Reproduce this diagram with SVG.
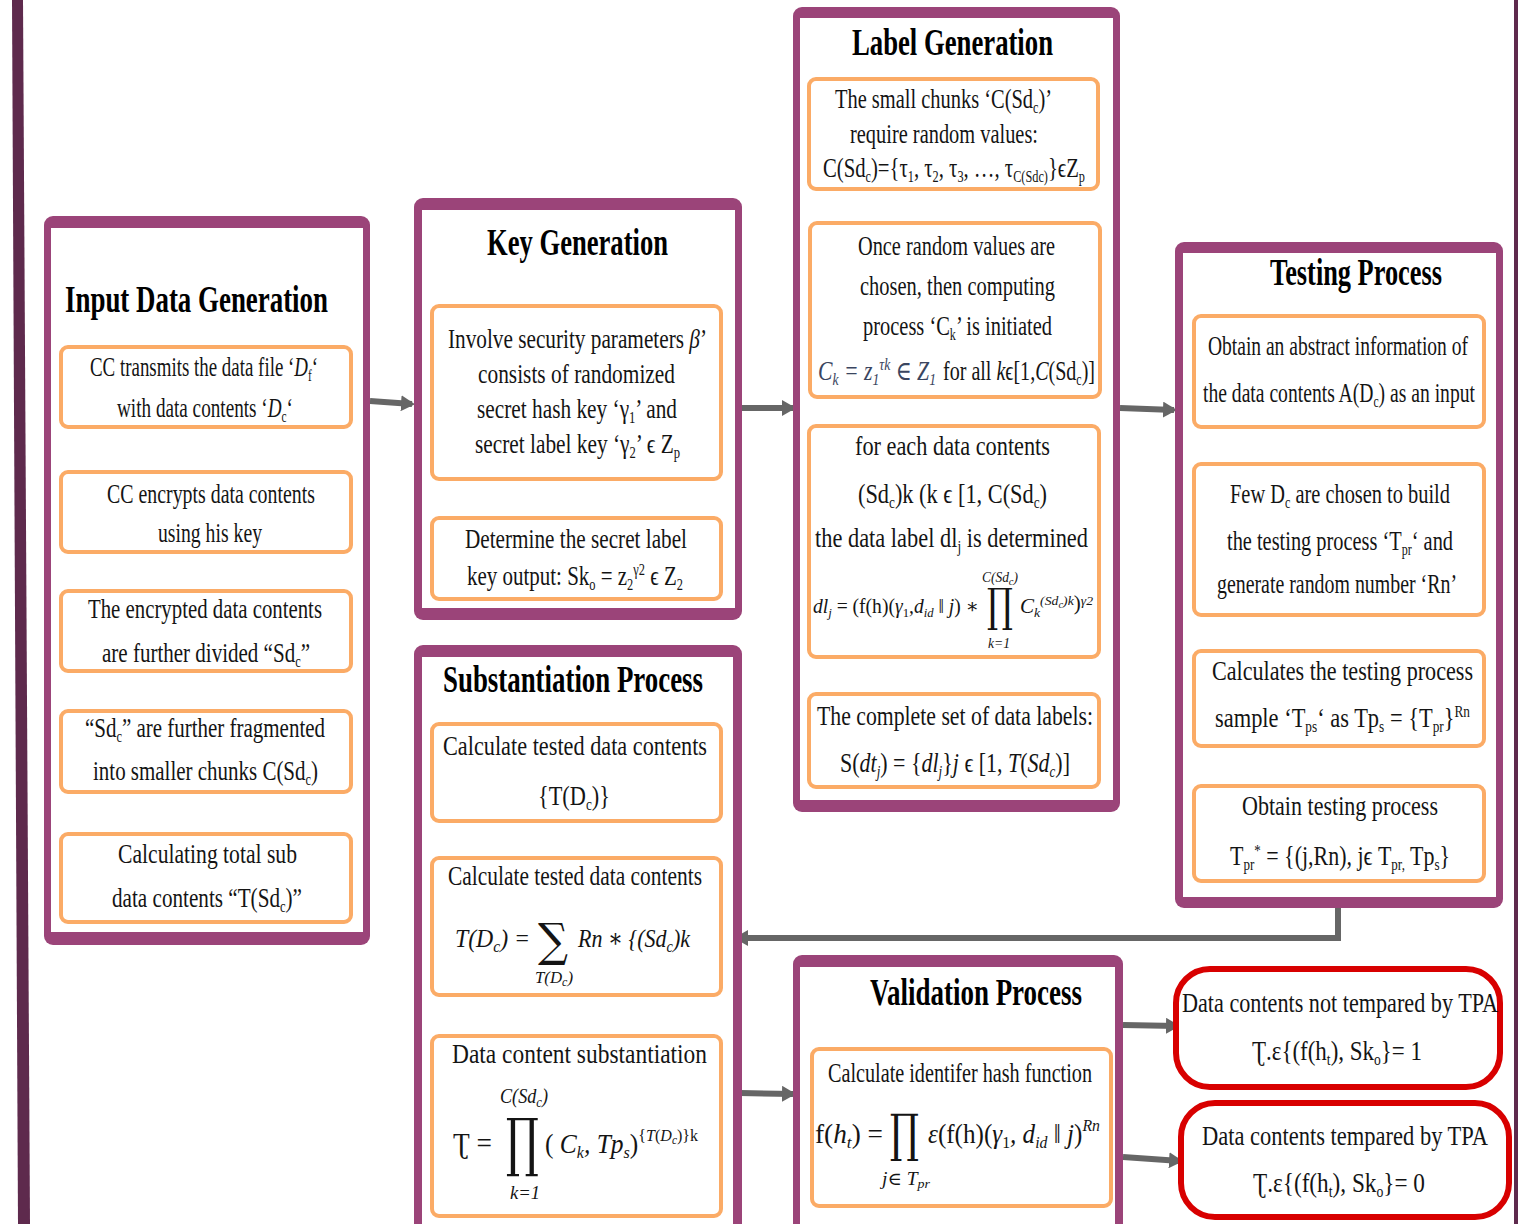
<svg xmlns="http://www.w3.org/2000/svg" width="1518" height="1224" viewBox="0 0 1518 1224">
  <defs>
    <style>
      .frame { fill: #9b4479; }
      .inner { fill: #ffffff; }
      .step { fill: #ffffff; stroke: #fbab66; stroke-width: 4; }
      .result { fill: #ffffff; stroke: #d80000; stroke-width: 6; }
      .t { font-family: "Liberation Serif", "Times New Roman", "DejaVu Serif", serif; font-size: 27px; fill: #141414; }
      .h { font-family: "Liberation Serif", "Times New Roman", serif; font-size: 38px; font-weight: bold; fill: #000; }
      .m { font-style: italic; }
      .op { font-family: "DejaVu Serif", "Liberation Serif", serif; fill: #141414; }
      .link { stroke: #666666; stroke-width: 6; fill: none; }
      .flow { stroke: #666666; stroke-width: 3; fill: none; }
    </style>
    <marker id="head" markerUnits="userSpaceOnUse" viewBox="0 0 14 16" refX="11" refY="8" markerWidth="14" markerHeight="16" orient="auto">
      <path d="M0,0 L14,8 L0,16 Z" fill="#666666"/>
    </marker>
    <marker id="vee" markerUnits="userSpaceOnUse" viewBox="0 0 14 12" refX="12" refY="6" markerWidth="14" markerHeight="12" orient="auto">
      <path d="M2,0.5 L12,6 L2,11.5" fill="none" stroke="#666666" stroke-width="2.5"/>
    </marker>
  </defs>

  <rect width="1518" height="1224" fill="#ffffff"/>

  <!-- page edges -->
  <polygon points="12,0 23,0 30,1224 18,1224" fill="#5e2a4d"/>
  <rect x="1514" y="0" width="4" height="1224" fill="#5e2a4d"/>

  <!-- connectors -->
  <g id="connectors">
    <line class="link" x1="370" y1="401" x2="412" y2="404" marker-end="url(#head)"/>
    <line class="link" x1="740" y1="408" x2="793" y2="408" marker-end="url(#head)"/>
    <line class="link" x1="1120" y1="408" x2="1174" y2="410" marker-end="url(#head)"/>
    <polyline class="link" points="1338,908 1338,938 737,938" marker-end="url(#head)"/>
    <line class="link" x1="740" y1="1093" x2="793" y2="1094" marker-end="url(#head)"/>
    <line class="link" x1="1123" y1="1025" x2="1177" y2="1026" marker-end="url(#head)"/>
    <line class="link" x1="1123" y1="1157" x2="1180" y2="1161" marker-end="url(#head)"/>

    <line class="flow" x1="206" y1="430" x2="206" y2="470" marker-end="url(#vee)"/>
    <line class="flow" x1="206" y1="554" x2="206" y2="589" marker-end="url(#vee)"/>
    <line class="flow" x1="206" y1="674" x2="206" y2="709" marker-end="url(#vee)"/>
    <line class="flow" x1="206" y1="794" x2="206" y2="832" marker-end="url(#vee)"/>

    <line class="flow" x1="576" y1="482" x2="576" y2="516" marker-end="url(#vee)"/>

    <line class="flow" x1="955" y1="192" x2="955" y2="221" marker-end="url(#vee)"/>
    <line class="flow" x1="955" y1="400" x2="955" y2="424" marker-end="url(#vee)"/>
    <line class="flow" x1="955" y1="660" x2="955" y2="692" marker-end="url(#vee)"/>

    <line class="flow" x1="1338" y1="430" x2="1338" y2="462" marker-end="url(#vee)"/>
    <line class="flow" x1="1338" y1="617" x2="1338" y2="649" marker-end="url(#vee)"/>
    <line class="flow" x1="1338" y1="749" x2="1338" y2="784" marker-end="url(#vee)"/>

    <line class="flow" x1="576" y1="824" x2="576" y2="856" marker-end="url(#vee)"/>
    <line class="flow" x1="576" y1="997" x2="576" y2="1034" marker-end="url(#vee)"/>
  </g>

  <!-- Input Data Generation -->
  <g id="input-data-generation">
    <rect class="frame" x="44" y="216" width="326" height="729" rx="9"/>
    <rect class="inner" x="51" y="228" width="312" height="704"/>
    <text class="h" x="65" y="312" textLength="263" lengthAdjust="spacingAndGlyphs">Input Data Generation</text>
    <rect class="step" x="61" y="347" width="290" height="80" rx="7"/>
    <text class="t" x="90" y="376" textLength="228" lengthAdjust="spacingAndGlyphs">CC transmits the data file ‘<tspan class="m">D</tspan><tspan font-size="16" dy="5">f</tspan><tspan dy="-5">‘</tspan></text>
    <text class="t" x="117" y="417" textLength="176" lengthAdjust="spacingAndGlyphs">with data contents ‘<tspan class="m">D</tspan><tspan font-size="16" dy="5">c</tspan><tspan dy="-5">‘</tspan></text>
    <rect class="step" x="61" y="472" width="290" height="80" rx="7"/>
    <text class="t" x="107" y="503" textLength="208" lengthAdjust="spacingAndGlyphs">CC encrypts data contents</text>
    <text class="t" x="158" y="542" textLength="104" lengthAdjust="spacingAndGlyphs">using his key</text>
    <rect class="step" x="61" y="591" width="290" height="80" rx="7"/>
    <text class="t" x="88" y="618" textLength="234" lengthAdjust="spacingAndGlyphs">The encrypted data contents</text>
    <text class="t" x="102" y="662" textLength="208" lengthAdjust="spacingAndGlyphs">are further divided “Sd<tspan font-size="16" dy="5">c</tspan><tspan dy="-5">”</tspan></text>
    <rect class="step" x="61" y="711" width="290" height="81" rx="7"/>
    <text class="t" x="85" y="737" textLength="240" lengthAdjust="spacingAndGlyphs">“Sd<tspan font-size="16" dy="5">c</tspan><tspan dy="-5">” are further fragmented</tspan></text>
    <text class="t" x="93" y="780" textLength="225" lengthAdjust="spacingAndGlyphs">into smaller chunks C(Sd<tspan font-size="16" dy="5">c</tspan><tspan dy="-5">)</tspan></text>
    <rect class="step" x="61" y="834" width="290" height="88" rx="7"/>
    <text class="t" x="118" y="863" textLength="179" lengthAdjust="spacingAndGlyphs">Calculating total sub</text>
    <text class="t" x="112" y="907" textLength="190" lengthAdjust="spacingAndGlyphs">data contents “T(Sd<tspan font-size="16" dy="5">c</tspan><tspan dy="-5">)”</tspan></text>
  </g>

  <!-- Key Generation -->
  <g id="key-generation">
    <rect class="frame" x="414" y="198" width="328" height="422" rx="9"/>
    <rect class="inner" x="422" y="210" width="313" height="398"/>
    <text class="h" x="487" y="255" textLength="181" lengthAdjust="spacingAndGlyphs">Key Generation</text>
    <rect class="step" x="432" y="306" width="289" height="173" rx="7"/>
    <text class="t" x="448" y="348" textLength="259" lengthAdjust="spacingAndGlyphs">Involve security parameters <tspan class="m">β</tspan>’</text>
    <text class="t" x="478" y="383" textLength="197" lengthAdjust="spacingAndGlyphs">consists of randomized</text>
    <text class="t" x="477" y="418" textLength="200" lengthAdjust="spacingAndGlyphs">secret hash key ‘γ<tspan font-size="16" dy="5">1</tspan><tspan dy="-5">’ and</tspan></text>
    <text class="t" x="475" y="453" textLength="205" lengthAdjust="spacingAndGlyphs">secret label key ‘γ<tspan font-size="16" dy="5">2</tspan><tspan dy="-5">’ ϵ Z</tspan><tspan font-size="16" dy="5">p</tspan></text>
    <rect class="step" x="432" y="518" width="289" height="81" rx="7"/>
    <text class="t" x="465" y="548" textLength="222" lengthAdjust="spacingAndGlyphs">Determine the secret label</text>
    <text class="t" x="467" y="585" textLength="216" lengthAdjust="spacingAndGlyphs">key output: Sk<tspan font-size="16" dy="5">o</tspan><tspan dy="-5"> = z</tspan><tspan font-size="16" dy="5">2</tspan><tspan font-size="16" dy="-15">γ2</tspan><tspan dy="10"> ϵ Z</tspan><tspan font-size="16" dy="5">2</tspan></text>
  </g>

  <!-- Label Generation -->
  <g id="label-generation">
    <rect class="frame" x="793" y="7" width="327" height="805" rx="9"/>
    <rect class="inner" x="800" y="18" width="313" height="782"/>
    <text class="h" x="852" y="55" textLength="201" lengthAdjust="spacingAndGlyphs">Label Generation</text>
    <rect class="step" x="809" y="79" width="289" height="110" rx="7"/>
    <text class="t" x="835" y="108" textLength="217" lengthAdjust="spacingAndGlyphs">The small chunks ‘C(Sd<tspan font-size="16" dy="5">c</tspan><tspan dy="-5">)’</tspan></text>
    <text class="t" x="850" y="143" textLength="188" lengthAdjust="spacingAndGlyphs">require random values:</text>
    <text class="t" x="823" y="177" textLength="262" lengthAdjust="spacingAndGlyphs">C(Sd<tspan font-size="16" dy="5">c</tspan><tspan dy="-5">)={τ</tspan><tspan font-size="16" dy="5">1</tspan><tspan dy="-5">, τ</tspan><tspan font-size="16" dy="5">2</tspan><tspan dy="-5">, τ</tspan><tspan font-size="16" dy="5">3</tspan><tspan dy="-5">, …, τ</tspan><tspan font-size="16" dy="5">C(Sdc)</tspan><tspan dy="-5">}ϵZ</tspan><tspan font-size="16" dy="5">p</tspan></text>
    <rect class="step" x="810" y="223" width="290" height="174" rx="7"/>
    <text class="t" x="858" y="255" textLength="197" lengthAdjust="spacingAndGlyphs">Once random values are</text>
    <text class="t" x="860" y="295" textLength="195" lengthAdjust="spacingAndGlyphs">chosen, then computing</text>
    <text class="t" x="863" y="335" textLength="189" lengthAdjust="spacingAndGlyphs">process ‘C<tspan font-size="16" dy="5">k</tspan><tspan dy="-5">’ is initiated</tspan></text>
    <text class="t m" x="818" y="380" textLength="118" lengthAdjust="spacingAndGlyphs" style="fill:#3a4560;font-size:27px">C<tspan font-size="17" dy="5">k</tspan><tspan dy="-5"> = z</tspan><tspan font-size="17" dy="5">1</tspan><tspan font-size="17" dy="-15">τk</tspan><tspan dy="10"> ∈ Z</tspan><tspan font-size="17" dy="5">1</tspan></text>
    <text class="t" x="943" y="380" textLength="152" lengthAdjust="spacingAndGlyphs">for all <tspan class="m">k</tspan>ϵ[1,<tspan class="m">C</tspan>(Sd<tspan font-size="16" dy="5">c</tspan><tspan dy="-5">)]</tspan></text>
    <rect class="step" x="809" y="426" width="290" height="231" rx="7"/>
    <text class="t" x="855" y="455" textLength="195" lengthAdjust="spacingAndGlyphs">for each data contents</text>
    <text class="t" x="858" y="503" textLength="189" lengthAdjust="spacingAndGlyphs">(Sd<tspan font-size="16" dy="5">c</tspan><tspan dy="-5">)k (k ϵ [1, C(Sd</tspan><tspan font-size="16" dy="5">c</tspan><tspan dy="-5">)</tspan></text>
    <text class="t" x="815" y="547" textLength="273" lengthAdjust="spacingAndGlyphs">the data label dl<tspan font-size="16" dy="5">j</tspan><tspan dy="-5"> is determined</tspan></text>
    <text class="t" x="813" y="613" textLength="166" lengthAdjust="spacingAndGlyphs" style="font-size:20px"><tspan class="m">dl</tspan><tspan class="m" font-size="13" dy="4">j</tspan><tspan dy="-4"> = (f(h)(</tspan><tspan class="m">γ</tspan><tspan font-size="13" dy="4">1</tspan><tspan class="m" dy="-4">,d</tspan><tspan class="m" font-size="13" dy="4">id</tspan><tspan dy="-4"> ‖ </tspan><tspan class="m">j</tspan>) ∗</text>
    <text class="t m" x="982" y="582" textLength="36" lengthAdjust="spacingAndGlyphs" style="font-size:14px">C(Sd<tspan font-size="11" dy="3">c</tspan><tspan dy="-3">)</tspan></text>
    <text class="op" x="987" y="621" font-size="46" textLength="26" lengthAdjust="spacingAndGlyphs">∏</text>
    <text class="t m" x="988" y="648" textLength="22" lengthAdjust="spacingAndGlyphs" style="font-size:14px">k=1</text>
    <text class="t" x="1020" y="613" textLength="73" lengthAdjust="spacingAndGlyphs" style="font-size:20px"><tspan class="m">C</tspan><tspan class="m" font-size="13" dy="4">k</tspan><tspan class="m" font-size="13" dy="-12">(Sd</tspan><tspan class="m" font-size="10" dy="3">c</tspan><tspan class="m" font-size="13" dy="-3">)k</tspan><tspan dy="5">)</tspan><tspan class="m" font-size="13" dy="-5">γ2</tspan></text>
    <rect class="step" x="809" y="694" width="290" height="93" rx="7"/>
    <text class="t" x="817" y="725" textLength="276" lengthAdjust="spacingAndGlyphs">The complete set of data labels:</text>
    <text class="t" x="840" y="772" textLength="230" lengthAdjust="spacingAndGlyphs">S(<tspan class="m">dt</tspan><tspan class="m" font-size="16" dy="5">j</tspan><tspan dy="-5">) = {</tspan><tspan class="m">dl</tspan><tspan class="m" font-size="16" dy="5">j</tspan><tspan dy="-5">}</tspan><tspan class="m">j</tspan> ϵ [1, <tspan class="m">T</tspan>(<tspan class="m">Sd</tspan><tspan class="m" font-size="16" dy="5">c</tspan><tspan dy="-5">)]</tspan></text>
  </g>

  <!-- Testing Process -->
  <g id="testing-process">
    <rect class="frame" x="1175" y="242" width="328" height="666" rx="9"/>
    <rect class="inner" x="1183" y="253" width="313" height="644"/>
    <text class="h" x="1270" y="285" textLength="172" lengthAdjust="spacingAndGlyphs">Testing Process</text>
    <rect class="step" x="1194" y="316" width="290" height="111" rx="7"/>
    <text class="t" x="1208" y="355" textLength="260" lengthAdjust="spacingAndGlyphs">Obtain an abstract information of</text>
    <text class="t" x="1203" y="402" textLength="272" lengthAdjust="spacingAndGlyphs">the data contents A(D<tspan font-size="16" dy="5">c</tspan><tspan dy="-5">) as an input</tspan></text>
    <rect class="step" x="1194" y="464" width="290" height="151" rx="7"/>
    <text class="t" x="1230" y="503" textLength="220" lengthAdjust="spacingAndGlyphs">Few D<tspan font-size="16" dy="5">c</tspan><tspan dy="-5"> are chosen to build</tspan></text>
    <text class="t" x="1227" y="550" textLength="226" lengthAdjust="spacingAndGlyphs">the testing process ‘T<tspan font-size="16" dy="5">pr</tspan><tspan dy="-5">‘ and</tspan></text>
    <text class="t" x="1217" y="593" textLength="240" lengthAdjust="spacingAndGlyphs">generate random number ‘Rn’</text>
    <rect class="step" x="1194" y="651" width="290" height="95" rx="7"/>
    <text class="t" x="1212" y="680" textLength="261" lengthAdjust="spacingAndGlyphs">Calculates the testing process</text>
    <text class="t" x="1215" y="727" textLength="255" lengthAdjust="spacingAndGlyphs">sample ‘T<tspan font-size="16" dy="5">ps</tspan><tspan dy="-5">‘ as Tp</tspan><tspan font-size="16" dy="5">s</tspan><tspan dy="-5"> = {T</tspan><tspan font-size="16" dy="5">pr</tspan><tspan dy="-5">}</tspan><tspan font-size="16" dy="-10">Rn</tspan></text>
    <rect class="step" x="1194" y="786" width="290" height="95" rx="7"/>
    <text class="t" x="1242" y="815" textLength="196" lengthAdjust="spacingAndGlyphs">Obtain testing process</text>
    <text class="t" x="1230" y="865" textLength="220" lengthAdjust="spacingAndGlyphs">T<tspan font-size="16" dy="5">pr</tspan><tspan font-size="16" dy="-14">*</tspan><tspan dy="9"> = {(j,Rn), jϵ T</tspan><tspan font-size="16" dy="5">pr,</tspan><tspan dy="-5"> Tp</tspan><tspan font-size="16" dy="5">s</tspan><tspan dy="-5">}</tspan></text>
  </g>

  <!-- Substantiation Process -->
  <g id="substantiation-process">
    <rect class="frame" x="414" y="645" width="328" height="600" rx="9"/>
    <rect class="inner" x="422" y="657" width="311" height="580"/>
    <text class="h" x="443" y="692" textLength="260" lengthAdjust="spacingAndGlyphs">Substantiation Process</text>
    <rect class="step" x="432" y="724" width="289" height="97" rx="7"/>
    <text class="t" x="443" y="755" textLength="264" lengthAdjust="spacingAndGlyphs">Calculate tested data contents</text>
    <text class="t" x="538" y="805" textLength="72" lengthAdjust="spacingAndGlyphs">{T(D<tspan font-size="16" dy="5">c</tspan><tspan dy="-5">)}</tspan></text>
    <rect class="step" x="432" y="858" width="289" height="137" rx="7"/>
    <text class="t" x="448" y="885" textLength="254" lengthAdjust="spacingAndGlyphs">Calculate tested data contents</text>
    <text class="t m" x="455" y="947" textLength="75" lengthAdjust="spacingAndGlyphs" style="font-size:26px">T(D<tspan font-size="17" dy="5">c</tspan><tspan dy="-5">) =</tspan></text>
    <text class="op" x="538" y="956" font-size="46" textLength="30" lengthAdjust="spacingAndGlyphs">∑</text>
    <text class="t m" x="578" y="947" textLength="112" lengthAdjust="spacingAndGlyphs" style="font-size:26px">Rn ∗ {(Sd<tspan font-size="17" dy="5">c</tspan><tspan dy="-5">)k</tspan></text>
    <text class="t m" x="535" y="983" textLength="38" lengthAdjust="spacingAndGlyphs" style="font-size:17px">T(D<tspan font-size="12" dy="3">c</tspan><tspan dy="-3">)</tspan></text>
    <rect class="step" x="432" y="1036" width="289" height="180" rx="7"/>
    <text class="t" x="452" y="1063" textLength="255" lengthAdjust="spacingAndGlyphs">Data content substantiation</text>
    <text class="t m" x="500" y="1103" textLength="48" lengthAdjust="spacingAndGlyphs" style="font-size:20px">C(Sd<tspan font-size="14" dy="4">c</tspan><tspan dy="-4">)</tspan></text>
    <text class="t" x="453" y="1153" textLength="39" lengthAdjust="spacingAndGlyphs" style="font-size:30px">Ʈ =</text>
    <text class="op" x="506" y="1164" font-size="64" textLength="33" lengthAdjust="spacingAndGlyphs">∏</text>
    <text class="t" x="545" y="1153" textLength="153" lengthAdjust="spacingAndGlyphs" style="font-size:27px">( <tspan class="m">C</tspan><tspan class="m" font-size="17" dy="5">k</tspan><tspan class="m" dy="-5">, Tp</tspan><tspan class="m" font-size="17" dy="5">s</tspan><tspan dy="-5">)</tspan><tspan font-size="17" dy="-12">{</tspan><tspan class="m" font-size="17">T</tspan><tspan font-size="17">(</tspan><tspan class="m" font-size="17">D</tspan><tspan class="m" font-size="12" dy="3">c</tspan><tspan font-size="17" dy="-3">)}k</tspan></text>
    <text class="t m" x="510" y="1199" textLength="30" lengthAdjust="spacingAndGlyphs" style="font-size:19px">k=1</text>
  </g>

  <!-- Validation Process -->
  <g id="validation-process">
    <rect class="frame" x="793" y="955" width="330" height="290" rx="9"/>
    <rect class="inner" x="800" y="967" width="315" height="270"/>
    <text class="h" x="870" y="1005" textLength="212" lengthAdjust="spacingAndGlyphs">Validation Process</text>
    <rect class="step" x="812" y="1049" width="299" height="157" rx="7"/>
    <text class="t" x="828" y="1082" textLength="264" lengthAdjust="spacingAndGlyphs">Calculate identifer hash function</text>
    <text class="t" x="815" y="1143" textLength="68" lengthAdjust="spacingAndGlyphs" style="font-size:27px">f(<tspan class="m">h</tspan><tspan class="m" font-size="17" dy="5">t</tspan><tspan dy="-5">) =</tspan></text>
    <text class="op" x="890" y="1151" font-size="52" textLength="29" lengthAdjust="spacingAndGlyphs">∏</text>
    <text class="t" x="928" y="1143" textLength="172" lengthAdjust="spacingAndGlyphs" style="font-size:27px"><tspan class="m">ε</tspan>(f(h)(<tspan class="m">γ</tspan><tspan font-size="17" dy="5">1</tspan><tspan class="m" dy="-5">, d</tspan><tspan class="m" font-size="17" dy="5">id</tspan><tspan dy="-5"> ‖ </tspan><tspan class="m">j</tspan>)<tspan class="m" font-size="17" dy="-12">Rn</tspan></text>
    <text class="t m" x="882" y="1185" textLength="48" lengthAdjust="spacingAndGlyphs" style="font-size:18px">j∈ T<tspan font-size="13" dy="3">pr</tspan></text>
  </g>

  <!-- Outcomes -->
  <g id="not-tampered">
    <rect class="result" x="1176" y="969" width="324" height="118" rx="34"/>
    <text class="t" x="1182" y="1012" textLength="316" lengthAdjust="spacingAndGlyphs">Data contents not tempared by TPA</text>
    <text class="t" x="1252" y="1060" textLength="170" lengthAdjust="spacingAndGlyphs">Ʈ.ε{(f(h<tspan font-size="16" dy="5">t</tspan><tspan dy="-5">), Sk</tspan><tspan font-size="16" dy="5">o</tspan><tspan dy="-5">}= 1</tspan></text>
  </g>
  <g id="tampered">
    <rect class="result" x="1181" y="1103" width="328" height="114" rx="34"/>
    <text class="t" x="1202" y="1145" textLength="286" lengthAdjust="spacingAndGlyphs">Data contents tempared by TPA</text>
    <text class="t" x="1253" y="1192" textLength="172" lengthAdjust="spacingAndGlyphs">Ʈ.ε{(f(h<tspan font-size="16" dy="5">t</tspan><tspan dy="-5">), Sk</tspan><tspan font-size="16" dy="5">o</tspan><tspan dy="-5">}= 0</tspan></text>
  </g>
</svg>
